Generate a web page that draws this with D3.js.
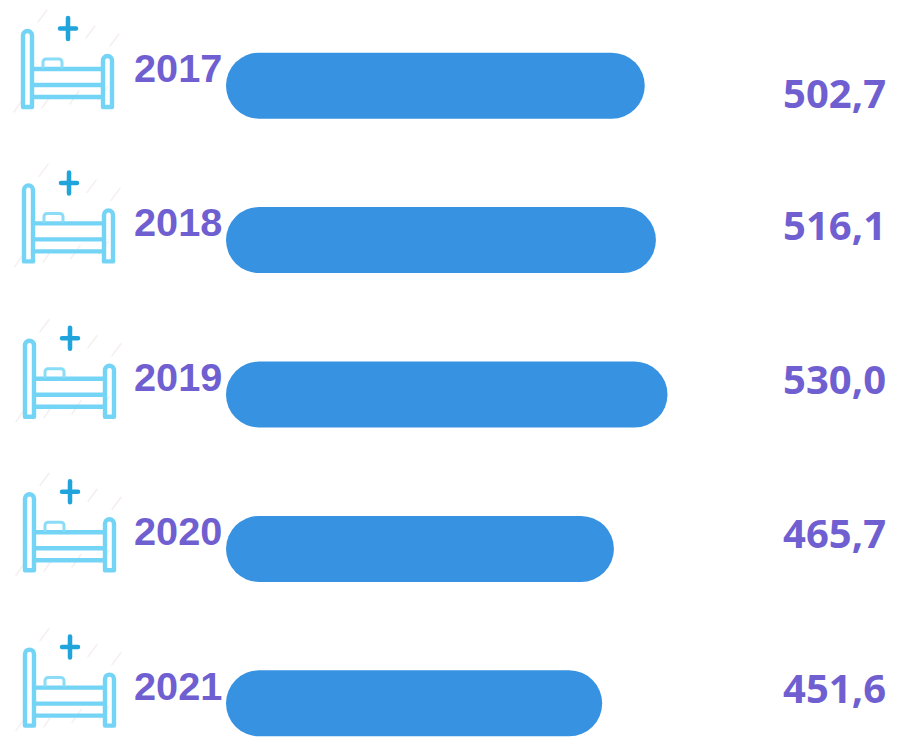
<!DOCTYPE html>
<html><head><meta charset="utf-8">
<script src="https://cdn.jsdelivr.net/npm/d3@7"></script>
<style>html,body{margin:0;padding:0;background:#fff}svg{display:block}</style></head>
<body><div id="c"></div>
<script>
const years = ["2017","2018","2019","2020","2021"];
const values = [502.7,516.1,530.0,465.7,451.6];
const valueLabels = ["502,7","516,1","530,0","465,7","451,6"];
const W=900,H=747;
const svg=d3.select("#c").append("svg").attr("width",W).attr("height",H);
const x=d3.scaleLinear().domain([0,530]).range([226,667.5]);
const bh=66;
const rowCenter=d=>85.7+years.indexOf(d)*154.4;
const purple="#6f5fd0",blue="#3792e2";
const iconDx=[0,1,2,2,2], valueDy=[22.5,0,0,0,0], iconDy=[0,0,1,0,1];
const rows=svg.selectAll("g.row").data(years).join("g").attr("class","row");
rows.append("rect").attr("x",x(0)).attr("y",d=>rowCenter(d)-bh/2)
 .attr("width",(d,i)=>x(values[i])-x(0)).attr("height",bh).attr("rx",bh/2).attr("fill",blue);
rows.append("text").text(d=>d).attr("x",134).attr("y",d=>rowCenter(d)-3.8)
 .attr("font-family","Liberation Sans").attr("font-weight",700).attr("font-size",39.7).attr("fill",purple);
rows.append("text").text((d,i)=>valueLabels[i]).attr("x",886).attr("text-anchor","end")
 .attr("y",(d,i)=>rowCenter(d)-0.5+valueDy[i])
 .attr("font-family","Open Sans").attr("font-weight",700).attr("font-size",40).attr("fill",purple);
const icons=rows.append("g").attr("transform",(d,i)=>`translate(${iconDx[i]},${rowCenter(d)-85.7+iconDy[i]})`)
 .attr("fill","none").attr("stroke-linejoin","round").attr("stroke-linecap","round");
const wm=d3.range(4);
wm.forEach(k=>icons.append("path").attr("d",`M${14+k*28} ${112-k*4}l9 -13M${38+k*24} ${22+k*8}l9 -12`).attr("stroke","#f6efef").attr("stroke-width",1.5));
icons.append("path").attr("d","M23 107V35.5a4.5 4.5 0 0 1 9 0V107ZM103 107V60.5a4.5 4.5 0 0 1 9 0V107Z")
 .attr("stroke","#74d4f6").attr("stroke-width",4.4);
icons.append("path").attr("d","M32 69H103M32 85H103M32 97H103")
 .attr("stroke","#74d4f6").attr("stroke-width",4.4);
icons.append("path").attr("d","M43 67V62a3 3 0 0 1 3 -3H59a3 3 0 0 1 3 3V67")
 .attr("stroke","#8adcf7").attr("stroke-width",3);
icons.append("path").attr("d","M60 28.5H76M68 18V39").attr("stroke","#1fa5dc").attr("stroke-width",4.5);
</script></body></html>
